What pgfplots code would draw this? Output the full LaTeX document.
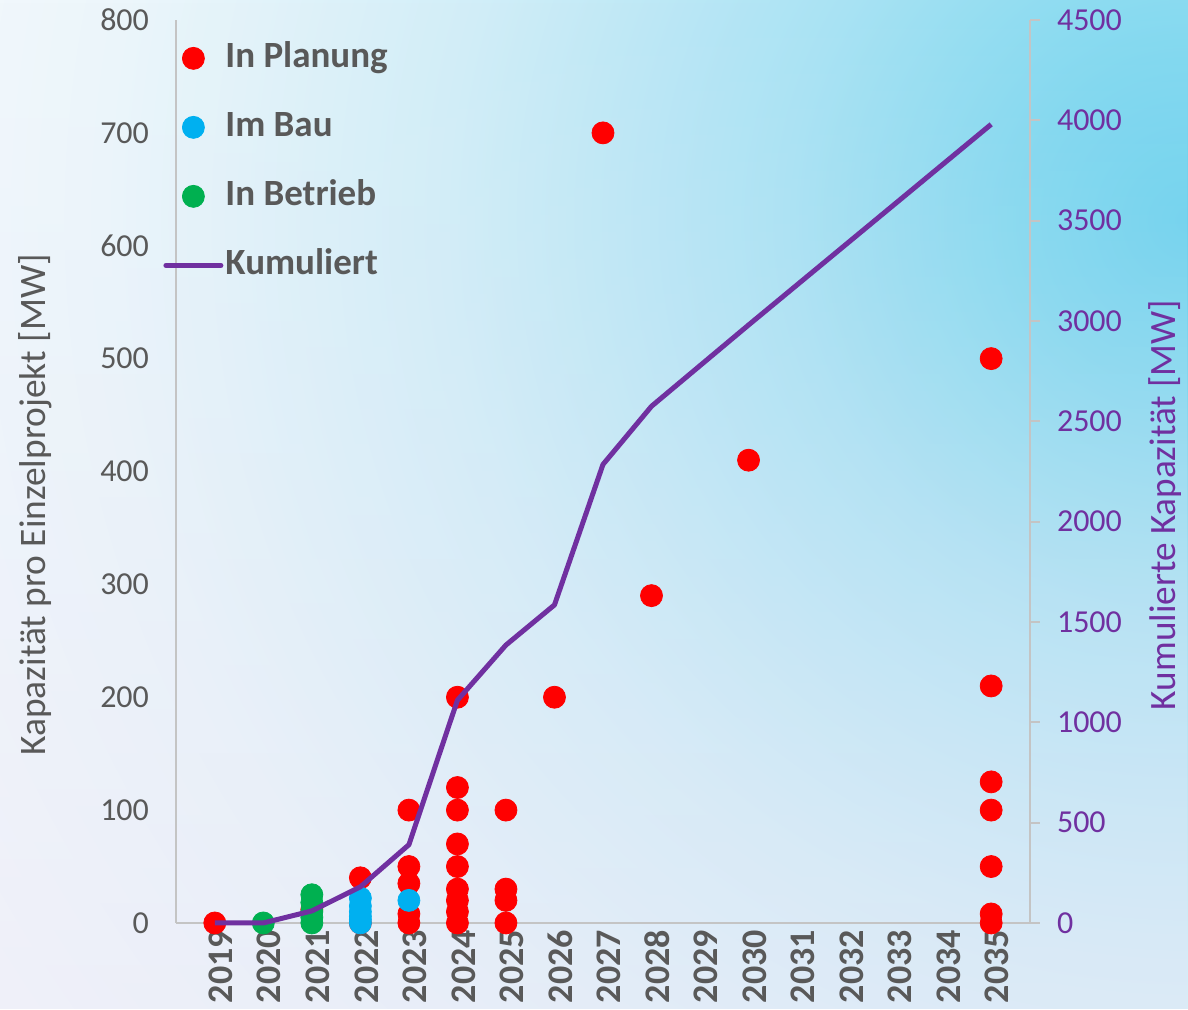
\documentclass[border=0pt]{standalone}
\usepackage{fontspec}
\setmainfont{Carlito}
\usepackage{pgfplots}
\pgfplotsset{compat=1.18}
\usetikzlibrary{fadings}

\definecolor{txt}{HTML}{595959}
\definecolor{pl}{HTML}{FF0000}
\definecolor{bau}{HTML}{00B0F0}
\definecolor{betr}{HTML}{00B050}
\definecolor{kum}{HTML}{7030A0}
\definecolor{axgray}{HTML}{C4C4C4}
\definecolor{bg0}{HTML}{6BD2EE}
\definecolor{bg1}{HTML}{80D8EF}
\definecolor{bg2}{HTML}{A8E2F3}
\definecolor{bg3}{HTML}{D1EEF8}
\definecolor{bg4}{HTML}{ECF6FB}
\definecolor{bg5}{HTML}{F8FAFD}
\definecolor{lav}{HTML}{E4E4F5}

\pgfdeclareradialshading{bgrad}{\pgfpoint{0bp}{0bp}}{color(0bp)=(bg0); color(80bp)=(bg1); color(200bp)=(bg2); color(370bp)=(bg3); color(540bp)=(bg4); color(700bp)=(bg5); color(900bp)=(bg5)}
\tikzfading[name=fadeup, top color=transparent!100, middle color=transparent!90, bottom color=transparent!55]

\pgfplotsset{
  dotleg/.style={legend image code/.code={\draw[##1] plot coordinates {(13.75pt,0pt)};}},
  lineleg/.style={legend image code/.code={\draw[##1] (0pt,0pt) -- (27.5pt,0pt);}},
}

\begin{document}
\begin{tikzpicture}
\fill[bg5] (-88pt,-43pt) rectangle (506pt,461.5pt);
\begin{scope}
\clip (-88pt,-43pt) rectangle (506pt,461.5pt);
\node[inner sep=0pt, outer sep=0pt, overlay, anchor=center] at (506pt,351.5pt) {\pgfuseshading{bgrad}};
\end{scope}
\fill[lav, path fading=fadeup, fit fading=true] (-88pt,-43pt) rectangle (506pt,461.5pt);
\begin{axis}[
  at={(0pt,0pt)}, anchor=south west,
  scale only axis, width=427pt, height=451.5pt,
  xmin=2018.2, xmax=2035.8, ymin=0, ymax=800,
  axis x line*=bottom, axis y line*=left,
  axis line style={axgray, line width=1pt},
  xtick={2019,...,2035}, ytick={0,100,...,800},
  major tick length=0pt,
  /pgf/number format/assume math mode=true,
  /pgf/number format/1000 sep={},
  yticklabel style={font=\fontsize{16}{19}\selectfont, text=txt, xshift=-10pt},
  xticklabel style={rotate=90, anchor=east, font=\fontsize{18}{21}\selectfont\bfseries, text=txt, yshift=-3pt},
  ylabel={Kapazität pro Einzelprojekt [MW]},
  every axis y label/.style={at={(axis description cs:-0.165,0.463)}, rotate=90, anchor=center, font=\fontsize{18.7}{22}\selectfont, text=txt},
  legend style={at={(axis description cs:-0.0152,0.979)}, anchor=north west, draw=none, fill=none,
    font=\fontsize{18.5}{22}\selectfont\bfseries, text=txt, row sep=15.5pt, inner sep=0pt,
    nodes={inner sep=1pt, text height=13pt, text depth=4pt}},
  legend cell align=left,
  clip=false,
]
\addplot[only marks, mark=*, mark size=5.5pt, color=pl, dotleg] coordinates {
(2019,0)
(2021,12)
(2022,40) (2022,0)
(2023,100) (2023,50) (2023,35) (2023,8) (2023,0)
(2024,200) (2024,120) (2024,100) (2024,70) (2024,50) (2024,30) (2024,20) (2024,10) (2024,0)
(2025,100) (2025,30) (2025,20) (2025,0)
(2026,200)
(2027,700)
(2028,290)
(2030,410)
(2035,500) (2035,210) (2035,125) (2035,100) (2035,50) (2035,8) (2035,0)
};
\addlegendentry{In Planung}
\addplot[only marks, mark=*, mark size=5.5pt, color=bau, dotleg] coordinates {
(2022,22) (2022,15) (2022,10) (2022,6) (2022,3) (2022,0)
(2023,20)
};
\addlegendentry{Im Bau}
\addplot[only marks, mark=*, mark size=5.5pt, color=betr, dotleg] coordinates {
(2020,0)
(2021,25) (2021,18) (2021,10) (2021,5) (2021,0)
};
\addlegendentry{In Betrieb}
\addlegendimage{kum, line width=2.5pt, line cap=round, lineleg}
\addlegendentry{Kumuliert}
\end{axis}
\begin{axis}[
  at={(0pt,0pt)}, anchor=south west,
  scale only axis, width=427pt, height=451.5pt,
  xmin=2018.2, xmax=2035.8, ymin=0, ymax=4500,
  axis x line=none, axis y line*=right,
  axis line style={axgray, line width=1pt},
  ytick={0,500,...,4500},
  tick align=outside, major tick length=5pt,
  ytick style={axgray, line width=1pt},
  /pgf/number format/assume math mode=true,
  /pgf/number format/1000 sep={},
  yticklabel style={font=\fontsize{16}{19}\selectfont, text=kum, xshift=5pt},
  ylabel={Kumulierte Kapazität [MW]},
  every axis y label/.style={at={(axis description cs:1.158,0.463)}, rotate=90, anchor=center, font=\fontsize{18.6}{22}\selectfont, text=kum},
  clip=false,
]
\addplot[kum, line width=2.5pt, line join=round, mark=none] coordinates {
(2019,0) (2020,0) (2021,60) (2022,180) (2023,390) (2024,1110) (2025,1385)
(2026,1585) (2027,2285) (2028,2575) (2030,2980) (2035,3980)
};
\end{axis}
\end{tikzpicture}
\end{document}
